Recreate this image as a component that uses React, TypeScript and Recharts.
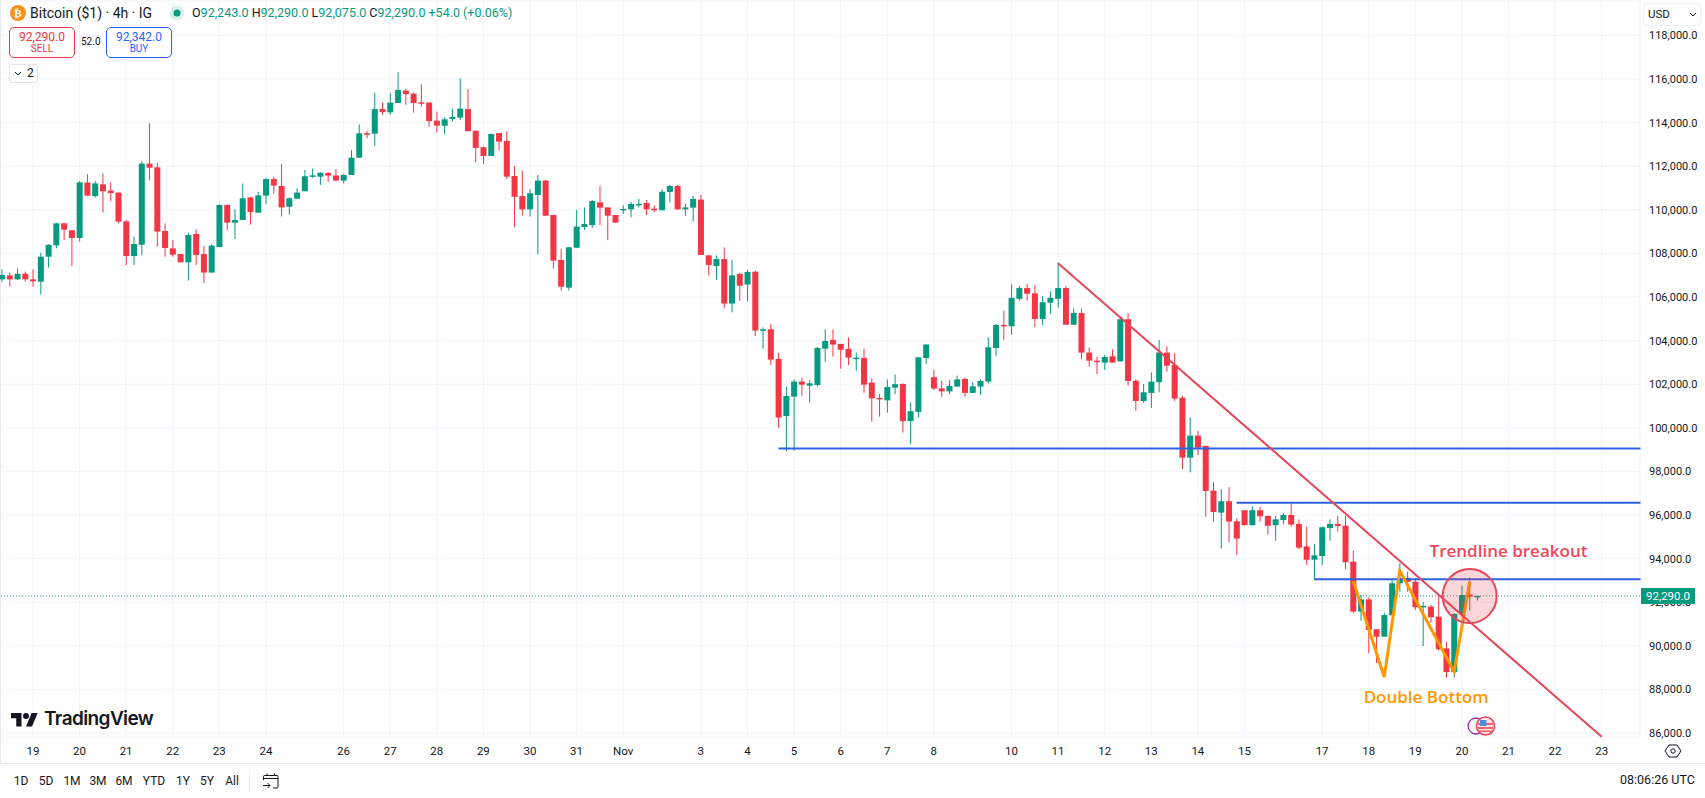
import {
  ComposedChart, Bar, Line, XAxis, YAxis, CartesianGrid,
  ReferenceLine, ReferenceDot, Label,
} from 'recharts'

// ── Candle data (4h) ──────────────────────────────────────────────────────────

const opens = [
  106810, 106990, 106810, 107070, 106810, 106700, 107850, 108370, 109380, 109060,
  108710, 111250, 110630, 111170, 110880, 110790, 109470, 107880, 108400, 112120,
  111950, 109030, 108230, 107970, 107590, 108890, 107970, 107120, 108290, 110220,
  109410, 109530, 110570, 109870, 110650, 111410, 111090, 110140, 110510, 110850,
  111550, 111520, 111690, 111570, 111340, 111600, 112390, 113510, 113490, 114620,
  114470, 114900, 115470, 115330, 114930, 114920, 114090, 113860, 114170, 114230,
  114620, 113630, 112870, 112470, 113520, 113160, 111550, 110630, 110020, 110680,
  111340, 109760, 107700, 106430, 108260, 109210, 109300, 110340, 110110, 109760,
  110010, 110020, 110240, 110310, 110050, 109980, 110820, 111090, 110020, 110100,
  110470, 107910, 107420, 107740, 105700, 107060, 106570, 107160, 104460, 104520,
  103160, 100540, 101430, 102120, 101930, 101960, 103630, 104030, 103850, 103620,
  103170, 103200, 102070, 101370, 101260, 101840, 102010, 100310, 100730, 103200,
  102320, 101810, 101670, 101890, 102240, 101600, 101890, 102120, 103660, 104720,
  104660, 105920, 106410, 106170, 104990, 105740, 105920, 106410, 104730, 105270,
  103450, 103080, 102990, 103280, 103050, 104980, 102160, 101230, 101600, 102090,
  103450, 102880, 101380, 98630, 99640, 99170, 97120, 96110, 96630, 95710,
  96220, 95530, 96220, 95960, 95530, 95770, 96000, 95590, 94560, 93950,
  94120, 95400, 95590, 95510, 93860, 91570, 92130, 90760, 90420, 91400,
  92870, 93110, 92940, 91800, 91800, 91340, 89880, 88800, 91440, 92350, 92243,
]
const highs = [
  107270, 107120, 107310, 107160, 107270, 108030, 108430, 109410, 109400, 109060,
  111320, 111630, 111320, 111670, 111250, 110790, 109530, 108770, 112220, 113970,
  112130, 109380, 108610, 107970, 108950, 109100, 108340, 108420, 110250, 110250,
  110020, 111210, 110600, 110820, 111470, 111500, 112090, 110570, 110990, 111830,
  111900, 111730, 111730, 111870, 111640, 112740, 113920, 113630, 115370, 114920,
  115370, 116310, 115560, 115390, 115760, 114920, 114500, 114240, 114640, 116030,
  115540, 113630, 112900, 113480, 113520, 113600, 112010, 111800, 110950, 111600,
  111370, 109760, 108200, 108310, 109990, 110110, 110450, 111090, 110110, 109760,
  110200, 110360, 110500, 110450, 110200, 110940, 111140, 111140, 110270, 110630,
  110680, 107910, 107910, 108280, 107700, 107120, 107240, 107210, 104610, 104760,
  103450, 101890, 102220, 102290, 102190, 103720, 104520, 104520, 103850, 104150,
  103450, 103620, 102270, 101550, 102220, 102450, 102040, 101170, 103260, 103830,
  102650, 102160, 102190, 102390, 102300, 102090, 102220, 104150, 104760, 105370,
  106580, 106510, 106600, 106550, 106050, 106260, 107580, 106510, 105470, 105470,
  103690, 103260, 103340, 103600, 105130, 105250, 102220, 102010, 102540, 104030,
  103750, 103420, 101470, 100480, 99850, 99170, 97500, 97190, 97280, 95850,
  96220, 96410, 96380, 95960, 95960, 96080, 96540, 95800, 95470, 94660,
  95470, 95800, 95960, 95970, 94370, 92330, 92220, 90760, 91520, 93020,
  93780, 93400, 93020, 92010, 91870, 92330, 90190, 91490, 92740, 93140, 92290,
]
const lows = [
  106700, 106470, 106780, 106700, 106470, 106110, 107350, 108230, 108610, 107420,
  108550, 110650, 110560, 109870, 110400, 109380, 107470, 107470, 107910, 111340,
  108310, 107850, 107850, 107590, 106750, 107470, 106630, 107120, 108290, 109070,
  108660, 109530, 109320, 109870, 110270, 110730, 109690, 109780, 110510, 110850,
  111470, 111140, 111290, 111340, 111210, 111600, 112390, 113280, 112930, 114360,
  114360, 114900, 114820, 114460, 114730, 113810, 113540, 113460, 114060, 114120,
  113580, 112180, 112100, 112470, 112740, 111410, 109200, 109730, 109690, 107960,
  109720, 107300, 106290, 106290, 108260, 109070, 109180, 109300, 108610, 109410,
  109810, 109660, 110110, 109760, 109880, 109980, 110330, 109990, 109720, 109460,
  107930, 106990, 106780, 105480, 105300, 105820, 105820, 104210, 103630, 102880,
  99990, 98920, 98950, 101470, 101150, 101890, 103030, 103260, 102710, 102880,
  102620, 101610, 100280, 100510, 100700, 101550, 99780, 99240, 100480, 102930,
  101730, 101430, 101550, 101890, 101430, 101600, 101510, 102040, 103290, 104030,
  104270, 105820, 105830, 104610, 104720, 105220, 105510, 104730, 104730, 103160,
  102810, 102470, 102650, 102990, 103030, 101930, 100770, 101150, 100910, 101630,
  102580, 101230, 98110, 97960, 98750, 95920, 95700, 94460, 94750, 94170,
  95530, 95530, 95700, 95110, 94820, 95570, 95470, 94430, 93710, 93020,
  93710, 94820, 95240, 93510, 91490, 91150, 89660, 89200, 90420, 91400,
  92480, 92480, 91640, 89990, 91060, 89780, 88540, 88540, 91340, 91610, 92075,
]
const closes = [
  107010, 106810, 107060, 106810, 106720, 107850, 108390, 109380, 109090, 108710,
  111260, 110650, 111210, 110850, 110770, 109460, 107880, 108430, 112120, 111930,
  109000, 108250, 107940, 107590, 108840, 107930, 107120, 108360, 110220, 109410,
  109530, 110530, 109900, 110660, 111410, 111110, 110110, 110530, 110790, 111540,
  111580, 111700, 111570, 111340, 111600, 112390, 113510, 113480, 114620, 114490,
  114920, 115500, 115310, 114900, 114900, 114070, 113860, 114150, 114260, 114640,
  113610, 112840, 112470, 113480, 113130, 111520, 110600, 110020, 110760, 111340,
  109730, 107670, 106470, 108280, 109230, 109350, 110400, 110100, 109730, 109410,
  110040, 110270, 110270, 110020, 109980, 110830, 111090, 110020, 110110, 110500,
  107930, 107470, 107740, 105700, 106990, 106520, 107150, 104460, 104520, 103130,
  100470, 101460, 102120, 101980, 102040, 103660, 103980, 103820, 103580, 103220,
  103220, 101980, 101350, 101310, 101870, 102000, 100310, 100760, 103230, 103820,
  101800, 101670, 101920, 102220, 101600, 101900, 102150, 103690, 104720, 104670,
  105960, 106410, 106150, 104990, 105760, 105960, 106410, 104730, 105270, 103450,
  103080, 103020, 103250, 102990, 104980, 102150, 101230, 101630, 102120, 103450,
  102850, 101340, 98630, 99640, 99090, 97100, 96140, 96630, 95700, 94920,
  95530, 96220, 95940, 95510, 95800, 96000, 95560, 94500, 93950, 94150,
  95440, 95590, 95500, 93830, 91570, 92130, 90730, 90420, 91410, 92870,
  93110, 92930, 91770, 91830, 91310, 89850, 88800, 91460, 92330, 92260, 92290,
]

// slots on the time scale: the candles above plus the empty future bars
const SLOT_COUNT = 212
const slots = Array.from({ length: SLOT_COUNT }, (_, i) => i)

const dayTicks = [4, 10, 16, 22, 28, 34, 44, 50, 56, 62, 68, 74, 80, 90, 96, 102, 108, 114, 120, 130, 136, 142, 148, 154, 160, 170, 176, 182, 188, 194, 200, 206]
const dayLabels = ['19', '20', '21', '22', '23', '24', '26', '27', '28', '29', '30', '31', 'Nov', '3', '4', '5', '6', '7', '8', '10', '11', '12', '13', '14', '15', '17', '18', '19', '20', '21', '22', '23']
const priceTicks = [86000, 88000, 90000, 92000, 94000, 96000, 98000, 100000, 102000, 104000, 106000, 108000, 110000, 112000, 114000, 116000, 118000]

// double bottom zigzag drawn on the chart
const zigzagSlots = [174, 178, 180, 187, 189]
const zigzagPrices = [92970, 88570, 93450, 88815, 92940]

const LAST_PRICE = 92290
const RANGES = ['1D', '5D', '1M', '3M', '6M', 'YTD', '1Y', '5Y', 'All']
const RANGE_X = [21, 46, 72, 98, 124, 154, 183, 207, 232]

const rows = slots.map((i) => {
  const z = zigzagSlots.indexOf(i)
  return {
    slot: i,
    open: opens[i],
    high: highs[i],
    low: lows[i],
    close: closes[i],
    zigzag: z >= 0 ? zigzagPrices[z] : undefined,
  }
})

const UP = '#089981'
const DOWN = '#f23645'
const GRID = '#f0f3fa'
const TEXT = '#131722'
const BLUE = '#2f62e0'
const TREND = '#e8475a'
const FONT = 'Roboto, sans-serif'

// ── Candle shape: wick + body, scaled from the high-low bar the library gives ─

function Candle(props: any) {
  const { x, y, width, height, payload } = props
  if (payload.high == null) return null
  const top = Math.min(y, y + height)
  const h = Math.abs(height)
  const perUnit = h / (payload.high - payload.low)
  const bodyTop = top + (payload.high - Math.max(payload.open, payload.close)) * perUnit
  const bodyH = Math.max(Math.abs(payload.open - payload.close) * perUnit, 1.5)
  const color = payload.close >= payload.open ? UP : DOWN
  const cx = x + width / 2
  return (
    <g>
      <line x1={cx} x2={cx} y1={top} y2={top + h} stroke={color} strokeWidth={1} />
      <rect x={x} y={bodyTop} width={width} height={bodyH} fill={color} />
    </g>
  )
}

// ── Chrome around the chart ───────────────────────────────────────────────────

function Abs({ x, y, style, children }: { x: number; y: number; style?: React.CSSProperties; children?: React.ReactNode }) {
  return (
    <div style={{ position: 'absolute', left: x, top: y, whiteSpace: 'nowrap', fontFamily: FONT, ...style }}>
      {children}
    </div>
  )
}

function TradeBox({ x, color, price, side }: { x: number; color: string; price: string; side: string }) {
  return (
    <div style={{
      position: 'absolute', left: x, top: 27, width: 64, height: 29, background: '#fff',
      border: `1px solid ${color}`, borderRadius: 5, color, textAlign: 'center', fontFamily: FONT,
    }}>
      <div style={{ fontSize: 12, lineHeight: '13px', marginTop: 3 }}>{price}</div>
      <div style={{ fontSize: 10, lineHeight: '10px' }}>{side}</div>
    </div>
  )
}

function Header() {
  return (
    <>
      <svg style={{ position: 'absolute', left: 10, top: 5 }} width={16} height={16}>
        <circle cx={8} cy={8} r={8} fill="#f7931a" />
        <text x={8} y={12} textAnchor="middle" fontSize={11} fontWeight={700} fill="#fff" fontFamily="DejaVu Sans">₿</text>
      </svg>
      <Abs x={30} y={4} style={{ fontSize: 14, lineHeight: '18px', color: TEXT }}>Bitcoin ($1) · 4h · IG</Abs>
      <svg style={{ position: 'absolute', left: 169, top: 5 }} width={16} height={16}>
        <circle cx={8} cy={8} r={7.5} fill="#089981" opacity={0.14} />
        <circle cx={8} cy={8} r={3.5} fill="#089981" />
      </svg>
      <Abs x={192} y={4} style={{ fontSize: 12.5, lineHeight: '18px', color: UP }}>
        <span style={{ color: TEXT }}>O</span>92,243.0{' '}
        <span style={{ color: TEXT }}>H</span>92,290.0{' '}
        <span style={{ color: TEXT }}>L</span>92,075.0{' '}
        <span style={{ color: TEXT }}>C</span>92,290.0{' '}
        +54.0 (+0.06%)
      </Abs>
      <TradeBox x={9} color={DOWN} price="92,290.0" side="SELL" />
      <Abs x={81} y={36} style={{ fontSize: 10, lineHeight: '12px', color: TEXT }}>52.0</Abs>
      <TradeBox x={106} color="#2962ff" price="92,342.0" side="BUY" />
      <div style={{
        position: 'absolute', left: 9, top: 64, width: 27, height: 17, border: '1px solid #e0e3eb',
        borderRadius: 3, background: '#fff', fontFamily: FONT, fontSize: 12, lineHeight: '17px', color: TEXT,
      }}>
        <svg style={{ position: 'absolute', left: 4, top: 5 }} width={8} height={7}>
          <path d="M1 2 L4 5 L7 2" fill="none" stroke={TEXT} strokeWidth={1} />
        </svg>
        <span style={{ position: 'absolute', left: 17, top: 0 }}>2</span>
      </div>
      <div style={{
        position: 'absolute', left: 1643, top: 3, width: 56, height: 21, border: '1px solid #eef0f4',
        borderRadius: 4, background: '#fff', fontFamily: FONT, fontSize: 11.5, lineHeight: '21px', color: TEXT,
      }}>
        <span style={{ position: 'absolute', left: 4, top: 0 }}>USD</span>
        <svg style={{ position: 'absolute', left: 45, top: 8 }} width={8} height={6}>
          <path d="M1 1 L4 4 L7 1" fill="none" stroke={TEXT} strokeWidth={1} />
        </svg>
      </div>
    </>
  )
}

function Logo() {
  return (
    <>
      <svg style={{ position: 'absolute', left: 11, top: 710 }} width={27} height={21} viewBox="0 0 36 28">
        <path d="M14 22H7V11H0V4h14v18zM28 22h-8l7.5-18h8L28 22z" fill={TEXT} />
        <circle cx={20} cy={8} r={4} fill={TEXT} />
      </svg>
      <Abs x={44} y={707} style={{ fontFamily: 'Inter, sans-serif', fontSize: 19, lineHeight: '24px', fontWeight: 600, color: TEXT, letterSpacing: -0.6 }}>
        TradingView
      </Abs>
    </>
  )
}

function EventIcons() {
  return (
    <svg style={{ position: 'absolute', left: 1466, top: 715 }} width={30} height={22}>
      <circle cx={10} cy={11} r={8} fill="#fff" stroke="#9c27b0" strokeWidth={1.3} />
      <circle cx={19.5} cy={11} r={9} fill="#fce4e6" stroke="#e8475a" strokeWidth={1.5} />
      <rect x={12} y={8} width={15} height={2} fill="#f0626f" />
      <rect x={12} y={12} width={15} height={2} fill="#f0626f" />
      <rect x={13} y={15.5} width={13} height={1.5} fill="#f0626f" />
      <rect x={14} y={5} width={6.5} height={6} fill="#4c8dd8" />
    </svg>
  )
}

function Toolbar() {
  return (
    <>
      <div style={{ position: 'absolute', left: 0, top: 763, width: 1705, height: 1, background: '#e6e8ee' }} />
      {RANGES.map((r, i) => (
        <div key={r} style={{
          position: 'absolute', left: RANGE_X[i] - 20, top: 773, width: 40, textAlign: 'center',
          fontFamily: FONT, fontSize: 12, lineHeight: '16px', color: TEXT,
        }}>{r}</div>
      ))}
      <div style={{ position: 'absolute', left: 249, top: 770, width: 1, height: 22, background: '#eceef2' }} />
      <svg style={{ position: 'absolute', left: 262, top: 772 }} width={18} height={18} fill="none" stroke={TEXT} strokeWidth={1}>
        <path d="M1.5 8 V4.5 a1 1 0 0 1 1 -1 H15 a1 1 0 0 1 1 1 V15 a1 1 0 0 1 -1 1 H11" />
        <path d="M1.5 6.5 H16 M5 1.5 V4 M12.5 1.5 V4" />
        <path d="M1 13.5 H8 M5.5 11 L8 13.5 L5.5 16" />
      </svg>
      <Abs x={1620} y={772} style={{ fontSize: 12.5, lineHeight: '16px', color: TEXT }}>08:06:26 UTC</Abs>
      <svg style={{ position: 'absolute', left: 1664, top: 743 }} width={18} height={16} fill="none" stroke={TEXT} strokeWidth={1}>
        <path d="M5 2 H13 L17 8 L13 14 H5 L1 8 Z" />
        <circle cx={9} cy={8} r={2.2} />
      </svg>
      {/* last price tag sits on top of the price scale */}
      <div style={{
        position: 'absolute', left: 1641, top: 588, width: 54, height: 16, background: UP, color: '#fff',
        textAlign: 'center', fontFamily: FONT, fontSize: 11.5, lineHeight: '16px', borderRadius: 1,
      }}>92,290.0</div>
    </>
  )
}

// ── Main component ────────────────────────────────────────────────────────────

export default function App() {
  return (
    <div style={{ position: 'absolute', left: 0, top: 0, width: 1705, height: 798, background: '#fff', overflow: 'hidden' }}>
      <div style={{ position: 'absolute', left: 0, top: 0, width: 1, height: 763, background: '#e6e8ee' }} />
      <div style={{ position: 'absolute', left: -2, top: 0 }}>
        <ComposedChart width={1707} height={763} data={rows} margin={{ top: 0, right: 0, bottom: 0, left: 0 }} barCategoryGap={0}>
          <CartesianGrid stroke={GRID} strokeWidth={1} />
          <XAxis
            dataKey="slot"
            type="category"
            height={26}
            ticks={dayTicks}
            interval={0}
            padding={{ left: 0, right: -4.4 }}
            tickFormatter={(v: number) => dayLabels[dayTicks.indexOf(v)]}
            tick={{ fontSize: 11.5, fill: TEXT, fontFamily: FONT }}
            tickLine={false}
            axisLine={false}
            tickMargin={4}
          />
          <YAxis
            orientation="right"
            width={65}
            domain={[85817, 119624]}
            allowDataOverflow
            ticks={priceTicks}
            interval={0}
            tickFormatter={(v: number) => `${v.toLocaleString('en-US')}.0`}
            tick={{ fontSize: 11, fill: TEXT, fontFamily: FONT, textAnchor: 'start' }}
            tickLine={false}
            axisLine={false}
            tickMargin={3}
          />
          <ReferenceLine y={LAST_PRICE} stroke={UP} strokeDasharray="1 2" strokeWidth={1} />
          <Bar
            dataKey={(d: any) => (d.high == null ? null : [d.low, d.high])}
            barSize={6}
            shape={<Candle />}
            isAnimationActive={false}
          />
          <ReferenceLine segment={[{ x: 100, y: 99050 }, { x: 211, y: 99050 }]} stroke={BLUE} strokeWidth={2} />
          <ReferenceLine segment={[{ x: 159, y: 96565 }, { x: 211, y: 96565 }]} stroke={BLUE} strokeWidth={2} />
          <ReferenceLine segment={[{ x: 169, y: 93050 }, { x: 211, y: 93050 }]} stroke={BLUE} strokeWidth={2} />
          <Line dataKey="zigzag" stroke="#ff9800" strokeWidth={3} dot={false} connectNulls isAnimationActive={false} />
          <ReferenceLine segment={[{ x: 136, y: 107545 }, { x: 206, y: 85830 }]} stroke={TREND} strokeWidth={2} />
          <ReferenceDot x={189} y={92285} r={27} fill="rgba(242,54,69,0.2)" stroke={TREND} strokeWidth={2} />
          <ReferenceDot x={194} y={94350} r={0} fill="none" stroke="none">
            <Label value="Trendline breakout" position="center" fill="#f0475a" fontSize={17} fontWeight={600} fontFamily="'Open Sans', sans-serif" />
          </ReferenceDot>
          <ReferenceDot x={183} y={87650} r={0} fill="none" stroke="none">
            <Label value="Double Bottom" position="center" dx={3} fill="#ff9800" fontSize={17} fontWeight={600} fontFamily="'Open Sans', sans-serif" />
          </ReferenceDot>
        </ComposedChart>
      </div>
      <Header />
      <Logo />
      <EventIcons />
      <Toolbar />
    </div>
  )
}
